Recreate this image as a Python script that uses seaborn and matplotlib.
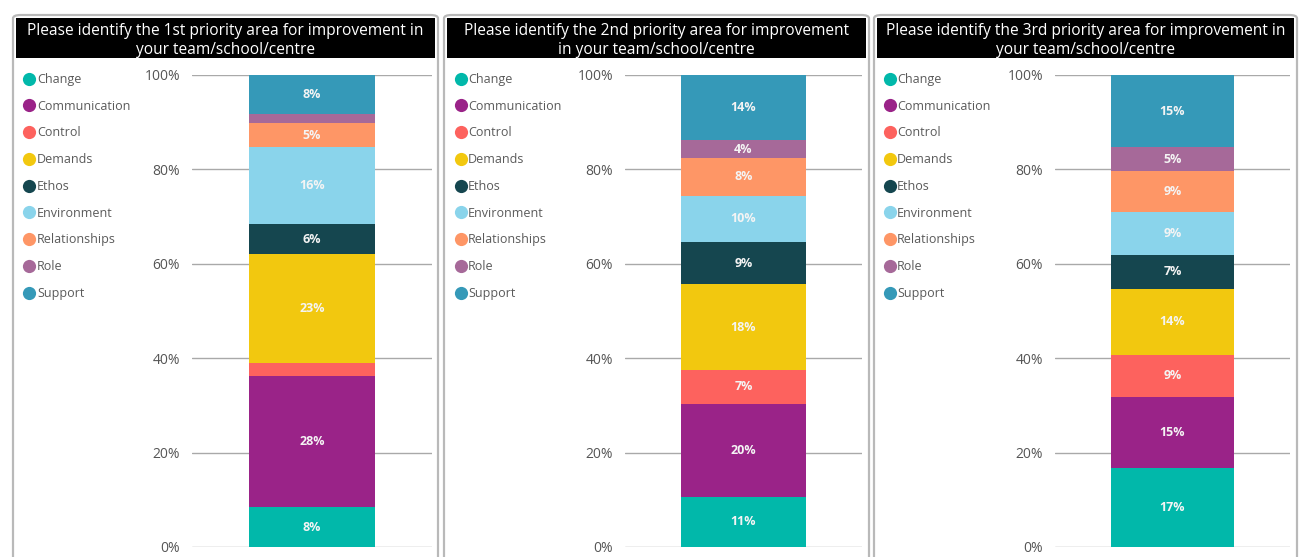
import numpy as np
import pandas as pd
import seaborn as sns
import matplotlib
matplotlib.use("Agg")
import matplotlib.pyplot as plt
from matplotlib.patches import FancyBboxPatch, Rectangle
from matplotlib.lines import Line2D

# ---- data -------------------------------------------------------------
categories = ["Change", "Communication", "Control", "Demands", "Ethos",
              "Environment", "Relationships", "Role", "Support"]
colors = ["#01B8AA", "#9A2388", "#FD625E", "#F2C80F", "#15464F",
          "#8AD4EB", "#FE9666", "#A66999", "#3599B8"]

titles = [
    "Please identify the 1st priority area for improvement in\nyour team/school/centre",
    "Please identify the 2nd priority area for improvement\nin your team/school/centre",
    "Please identify the 3rd priority area for improvement in\nyour team/school/centre",
]

priority_1 = [8.4, 27.9, 2.6, 23.2, 6.3, 16.3, 5.1, 1.9, 8.3]
priority_2 = [10.6, 19.7, 7.2, 18.2, 8.9, 9.8, 8.0, 3.8, 13.8]
priority_3 = [16.7, 15.1, 8.9, 14.0, 7.2, 9.1, 8.7, 5.0, 15.3]
series = [priority_1, priority_2, priority_3]

y_ticks = [0, 20, 40, 60, 80, 100]
y_tick_labels = ["0%", "20%", "40%", "60%", "80%", "100%"]

# ---- layout (pixels) --------------------------------------------------
W, H = 1299, 557
sns.set_theme(style="white")
plt.rcParams["font.family"] = ["Open Sans", "DejaVu Sans"]

fig = plt.figure(figsize=(W / 100, H / 100), dpi=100)
fig.patch.set_facecolor("white")


def fx(px):
    return px / W


def fy(py):
    return 1 - py / H


panels = [
    dict(left=13, right=438, axl=192, axr=432, leg=22),
    dict(left=444, right=869, axl=625, axr=862, leg=453),
    dict(left=874, right=1297, axl=1055, axr=1290, leg=882),
]

y_top, y_bot = 75, 547

for p, title, values in zip(panels, titles, series):
    # panel frame
    frame = FancyBboxPatch((fx(p["left"]), fy(H + 10)),
                           fx(p["right"] - p["left"]), (H + 10 - 15) / H,
                           boxstyle="round,pad=0,rounding_size=0.006",
                           transform=fig.transFigure, facecolor="white",
                           edgecolor="#b9b9b9", linewidth=1.6, zorder=-2)
    fig.patches.append(frame)
    # title bar
    bar = Rectangle((fx(p["left"] + 3), fy(58)), fx(p["right"] - p["left"] - 6),
                    40 / H, transform=fig.transFigure, facecolor="black",
                    edgecolor="none", zorder=-1)
    fig.patches.append(bar)
    fig.text(fx((p["left"] + p["right"]) / 2), fy(40.5), title, color="white",
             ha="center", va="center", fontsize=11.2, linespacing=1.3, zorder=2)

    # stacked bar
    ax = fig.add_axes([fx(p["axl"]), fy(y_bot), fx(p["axr"] - p["axl"]),
                       (y_bot - y_top) / H])
    ax.set_zorder(1)
    ax.set_facecolor("none")
    df = pd.DataFrame({"category": categories, "value": values})
    total = df["value"].sum()
    df["cum"] = df["value"].cumsum() / total * 100
    df["base"] = df["cum"] - df["value"] / total * 100
    # overlay cumulative bars from the top segment down
    for i in range(len(df) - 1, -1, -1):
        sns.barplot(x=["all"], y=[df["cum"].iloc[i]], color=colors[i],
                    width=0.525, saturation=1, ax=ax, zorder=3,
                    edgecolor="none", linewidth=0)
    for _, r in df.iterrows():
        if r["value"] >= 3.5:
            ax.text(0, (r["base"] + r["cum"]) / 2, f"{round(r['value'])}%",
                    ha="center", va="center", color="#f4f4f4", fontsize=9,
                    fontweight="bold", zorder=5)

    ax.set_ylim(0, 100)
    ax.set_xlim(-0.5, 0.5)
    ax.set_yticks(y_ticks)
    ax.set_yticklabels(y_tick_labels)
    ax.set_xticks([])
    ax.set_xlabel("")
    ax.set_ylabel("")
    for yv in y_ticks:
        ax.axhline(yv, color="#a9a9a9", linewidth=1.0, zorder=1)
    for s in ax.spines.values():
        s.set_visible(False)
    ax.tick_params(axis="y", length=0, pad=8.5, labelsize=10, labelcolor="#555555")

    # legend
    handles = [Line2D([0], [0], marker="o", linestyle="none", markersize=9.5,
                      markerfacecolor=c, markeredgecolor="none") for c in colors]
    fig.legend(handles, categories, loc="upper left",
               bbox_to_anchor=(fx(p["leg"]), fy(73)), frameon=False,
               fontsize=9, labelcolor="#5a5a5a", handletextpad=0.0,
               handlelength=1.2, labelspacing=1.1, borderaxespad=0,
               borderpad=0)

fig.savefig("out.png", dpi=100, facecolor="white")
